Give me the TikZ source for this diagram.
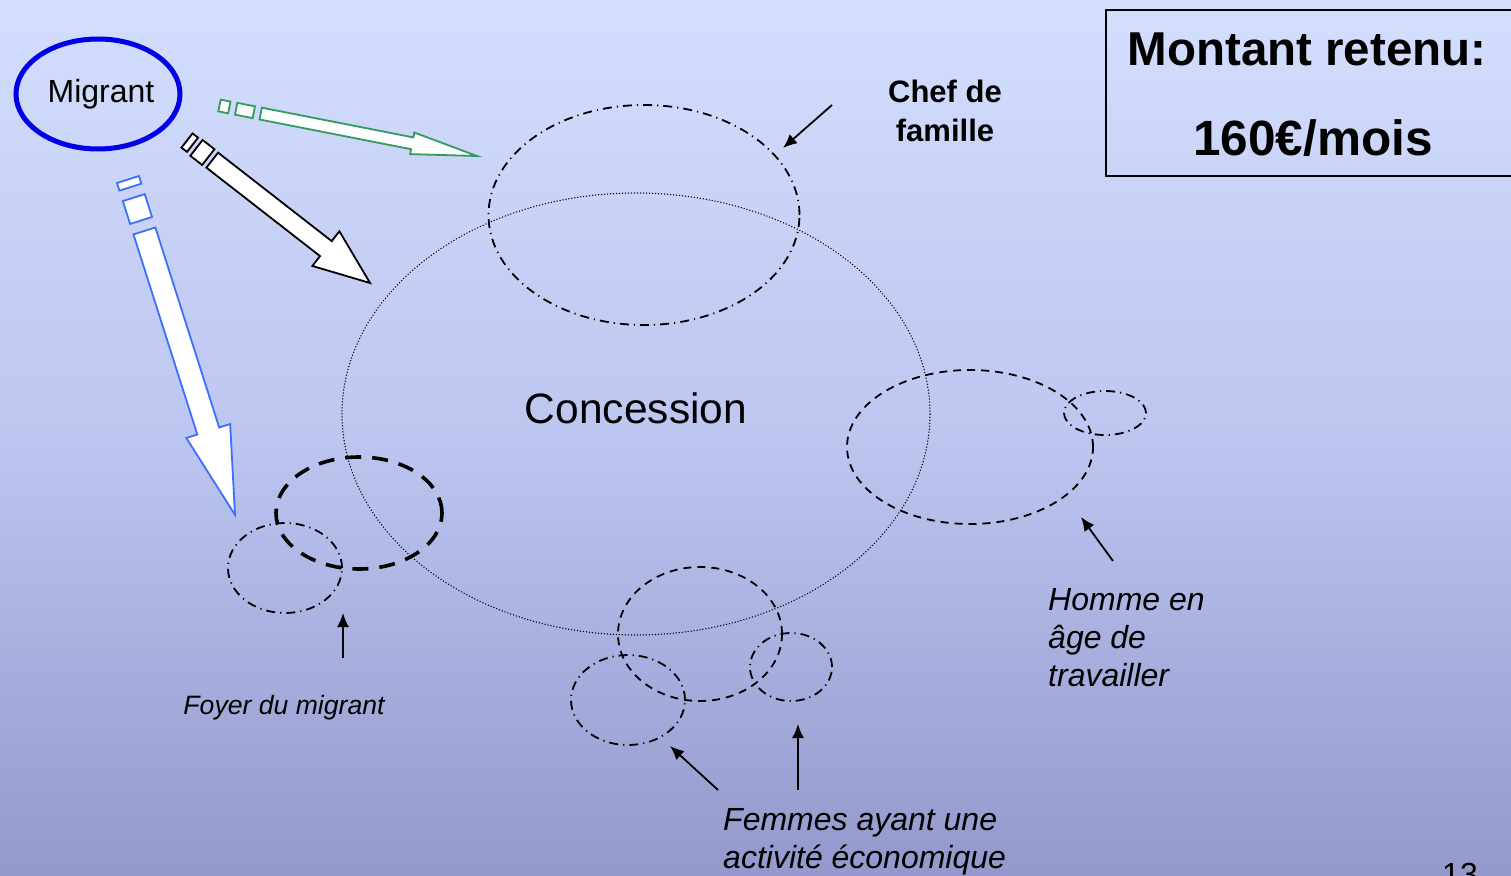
\documentclass[tikz,border=0pt]{standalone}
\usepackage{fontspec}
\setmainfont{Liberation Sans}
\usetikzlibrary{shapes.geometric,arrows.meta}
\definecolor{bgtop}{RGB}{212,222,253}
\definecolor{bgmid}{RGB}{188,198,240}
\definecolor{bgbot}{RGB}{148,152,204}
\definecolor{migblue}{RGB}{0,0,230}
\definecolor{arrgreen}{RGB}{50,155,95}
\definecolor{arrblue}{RGB}{60,110,255}
\newcommand{\fs}[1]{\fontsize{#1}{#1}\selectfont}
\tikzset{
  ell/.style={ellipse, inner sep=0pt, minimum width=#1},
  dotell/.style={draw, line width=1.5pt, dash pattern=on 0pt off 3pt, line cap=round},
  dashdotell/.style={draw, line width=1.8pt, dash pattern=on 9pt off 5pt on 1.2pt off 5pt},
  dashell/.style={draw, line width=1.8pt, dash pattern=on 8pt off 6pt},
  thickdash/.style={draw, line width=3.6pt, dash pattern=on 16pt off 11pt},
  strip/.style={fill=white, draw=#1, line width=1.8pt, line join=miter},
  pointer/.style={line width=1.8pt, -{Latex[length=14pt,width=12pt]}},
  lbl/.style={inner sep=0pt, anchor=base},
  lblw/.style={inner sep=0pt, anchor=base west},
}
\begin{document}
\begin{tikzpicture}[x=1pt,y=-1pt]
\useasboundingbox (0,0) rectangle (1511,875);
\begin{scope}
\clip (0,0) rectangle (1511,875);
\shade[top color=bgtop, bottom color=bgbot, middle color=bgmid] (0,0) rectangle (1511,875);

% Big concession ellipse
\node[ell=588pt, minimum height=442pt, dotell] (conc) at (636,414) {};
\node[lbl] (conctext) at (636,423) {\fs{42.5}Concession};

% Chef de famille
\node[ell=311pt, minimum height=220pt, dashdotell] (chef) at (644,215) {};
\node[lbl] (chef1) at (945,102) {\fs{31}\bfseries Chef de};
\node[lbl] (chef2) at (945,141) {\fs{31}\bfseries famille};
\coordinate (chefS) at (832,105);
\coordinate (chefE) at (783,148);
\draw[pointer] (chefS) -- (chefE);

% Homme en age de travailler
\node[ell=246pt, minimum height=154pt, dashell] (homme) at (970,447) {};
\node[ell=82pt, minimum height=44pt, dashdotell] (hommes) at (1105,413) {};
\node[lblw] (h1) at (1048,610) {\fs{32}\itshape Homme en};
\node[lblw] (h2) at (1048,648) {\fs{32}\itshape âge de};
\node[lblw] (h3) at (1048,686) {\fs{32}\itshape travailler};
\coordinate (hS) at (1113,561);
\coordinate (hE) at (1081,517);
\draw[pointer] (hS) -- (hE);

% Foyer du migrant
\node[ell=166pt, minimum height=112pt, thickdash] (foyer) at (359,513) {};
\node[ell=114pt, minimum height=90pt, dashdotell] (foyers) at (285,568) {};
\node[lbl] (foyertext) at (284,714) {\fs{26.6}\itshape Foyer du migrant};
\coordinate (fS) at (343,658);
\coordinate (fE) at (343,613);
\draw[pointer] (fS) -- (fE);

% Femmes
\node[ell=164pt, minimum height=134pt, dashell] (fem) at (700,634) {};
\node[ell=114pt, minimum height=90pt, dashdotell] (feml) at (628,700) {};
\node[ell=82pt, minimum height=68pt, dashdotell] (femr) at (791,667) {};
\node[lblw] (f1) at (723,830) {\fs{32}\itshape Femmes ayant une};
\node[lblw] (f2) at (723,868) {\fs{32}\itshape activité économique};
\coordinate (fa1S) at (718,790);
\coordinate (fa1E) at (670,746);
\coordinate (fa2S) at (798,790);
\coordinate (fa2E) at (798,724);
\draw[pointer] (fa1S) -- (fa1E);
\draw[pointer] (fa2S) -- (fa2E);

% Migrant
\node[ell=164pt, minimum height=110pt, draw=migblue, line width=5pt] (migrant) at (98,94) {};
\node[lbl] (migtext) at (101,102) {\fs{32}Migrant};

% Green striped arrow
\begin{scope}[shift={(219.5,105.5)}, rotate=-11.1]
\draw[strip=arrgreen] (0,-6) -- (10,-6) -- (10,6) -- (0,6) -- cycle;
\draw[strip=arrgreen] (17,-6) -- (35,-6) -- (35,6) -- (17,6) -- cycle;
\draw[strip=arrgreen] (42,-6) -- (196.4,-6) -- (196.4,-11) -- (262.4,0) -- (196.4,11) -- (196.4,6) -- (42,6) -- cycle;
\end{scope}

% Black striped arrow
\begin{scope}[shift={(187,140.5)}, rotate=-37.9]
\draw[strip=black] (0,-9) -- (7,-9) -- (7,9) -- (0,9) -- cycle;
\draw[strip=black] (12,-10) -- (27,-10) -- (27,10) -- (12,10) -- cycle;
\draw[strip=black] (32,-9.5) -- (176,-9.5) -- (176,-22) -- (232,0) -- (176,22) -- (176,9.5) -- (32,9.5) -- cycle;
\end{scope}

% Blue striped arrow
\begin{scope}[shift={(128,179.5)}, rotate=-72.3]
\draw[strip=arrblue] (0,-11.5) -- (8,-11.5) -- (8,11.5) -- (0,11.5) -- cycle;
\draw[strip=arrblue] (19,-11.5) -- (43,-11.5) -- (43,11.5) -- (19,11.5) -- cycle;
\draw[strip=arrblue] (54,-11.5) -- (264,-11.5) -- (264,-23) -- (352,0) -- (264,23) -- (264,11.5) -- (54,11.5) -- cycle;
\end{scope}

% Montant box
\node[draw, line width=1.8pt, minimum width=420pt, minimum height=166pt, anchor=north west, inner sep=0pt] (box) at (1105,9) {};
\node[lbl] (mont1) at (1307,66) {\fs{47.5}\bfseries Montant retenu:};
\node[lbl] (mont2) at (1313,155) {\fs{49.5}\bfseries 160€/mois};

% Page number
\node[lbl] (pnum) at (1460,885) {\fs{32}13};
\end{scope}
\end{tikzpicture}
\end{document}
